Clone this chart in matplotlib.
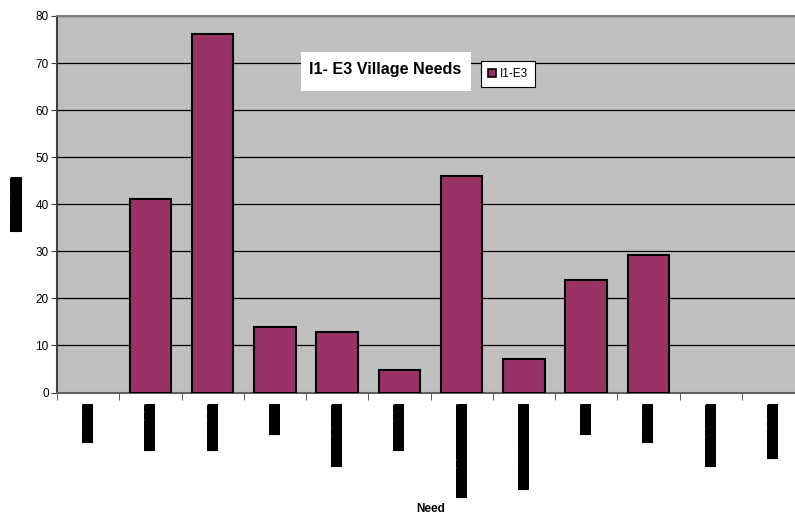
import matplotlib
matplotlib.use("Agg")
import matplotlib.pyplot as plt
from matplotlib.patches import Rectangle, Patch

# Village needs counts, one bar per need category
need_values = [0, 41.2, 76.2, 13.9, 12.9, 4.7, 46.0, 7.1, 24.0, 29.2, 0, 0]
# Category names are blacked out in the source chart
need_labels = ["█" * n for n in [5, 6, 6, 4, 8, 6, 12, 11, 4, 5, 8, 7]]
y_label = "█" * 7
x_label = "Need"
series_name = "I1-E3"
chart_title = "I1- E3 Village Needs"
y_ticks = [0, 10, 20, 30, 40, 50, 60, 70, 80]

W, H = 795, 518
fig = plt.figure(figsize=(W / 100, H / 100), dpi=100)
fig.patch.set_facecolor("white")

left, right, top, bottom = 57, 804, 16, 392.5
ax = fig.add_axes([left / W, 1 - bottom / H, (right - left) / W, (bottom - top) / H])
ax.set_facecolor("#C0C0C0")

xs = list(range(len(need_values)))
bars = ax.bar(xs, need_values, width=0.667, color="#993366", edgecolor="black",
              linewidth=1.5, zorder=3)
for b, v in zip(bars, need_values):
    if v == 0:
        b.set_linewidth(0)

ax.set_xlim(-0.5, len(need_values) - 0.5)
ax.set_ylim(0, 80)
ax.set_yticks(y_ticks)
ax.set_yticklabels([str(v) for v in y_ticks], family="Liberation Sans", fontsize=8.5)
ax.yaxis.grid(True, color="black", linewidth=0.9, zorder=1)
ax.set_axisbelow(True)

# category labels centred under bars, tick marks on category boundaries
redact = dict(facecolor="black", edgecolor="none", pad=0)
ax.set_xticks(xs)
ax.set_xticklabels(need_labels, rotation=90, va="top", ha="center",
                   family="DejaVu Sans", fontsize=7.4)
for t in ax.get_xticklabels():
    t.set_bbox(redact)
ax.tick_params(axis="x", which="major", length=0, pad=8)
ax.set_xticks([x - 0.5 for x in range(len(need_values) + 1)], minor=True)
ax.tick_params(axis="x", which="minor", length=5, direction="out", color="#404040")
ax.tick_params(axis="y", length=4, direction="out", color="#404040", pad=2)

for side, col in [("top", "#808080"), ("left", "#404040"), ("bottom", "#606060")]:
    ax.spines[side].set_color(col)
    ax.spines[side].set_linewidth(1.5)
ax.spines["right"].set_visible(False)

ax.set_ylabel(y_label, family="DejaVu Sans", fontsize=7.4, labelpad=10,
              bbox=redact)
fig.text(431 / W, 1 - 509 / H, x_label, ha="center", va="center",
         family="Liberation Sans", fontweight="bold", fontsize=8.5)

# title on a white panel inside the plot area
fig.add_artist(Rectangle((301 / W, 1 - 91 / H), 170 / W, 39 / H,
                         transform=fig.transFigure, facecolor="white",
                         edgecolor="none", zorder=5))
fig.text(385 / W, 1 - 69 / H, chart_title, ha="center", va="center",
         family="Liberation Sans", fontweight="bold", fontsize=11.6, zorder=6)

leg = ax.legend(handles=[Patch(facecolor="#993366", edgecolor="black", linewidth=1.2,
                               label=series_name)],
                loc="upper left", bbox_to_anchor=(481 / W, 1 - 61 / H),
                bbox_transform=fig.transFigure, fancybox=False, frameon=True,
                edgecolor="black", framealpha=1, borderpad=0.6,
                handlelength=0.7, handleheight=0.7, handletextpad=0.3,
                borderaxespad=0, prop={"family": "Liberation Sans", "size": 8.5})
leg.get_frame().set_linewidth(0.8)
leg.set_zorder(7)

fig.savefig("out.png", dpi=100)
